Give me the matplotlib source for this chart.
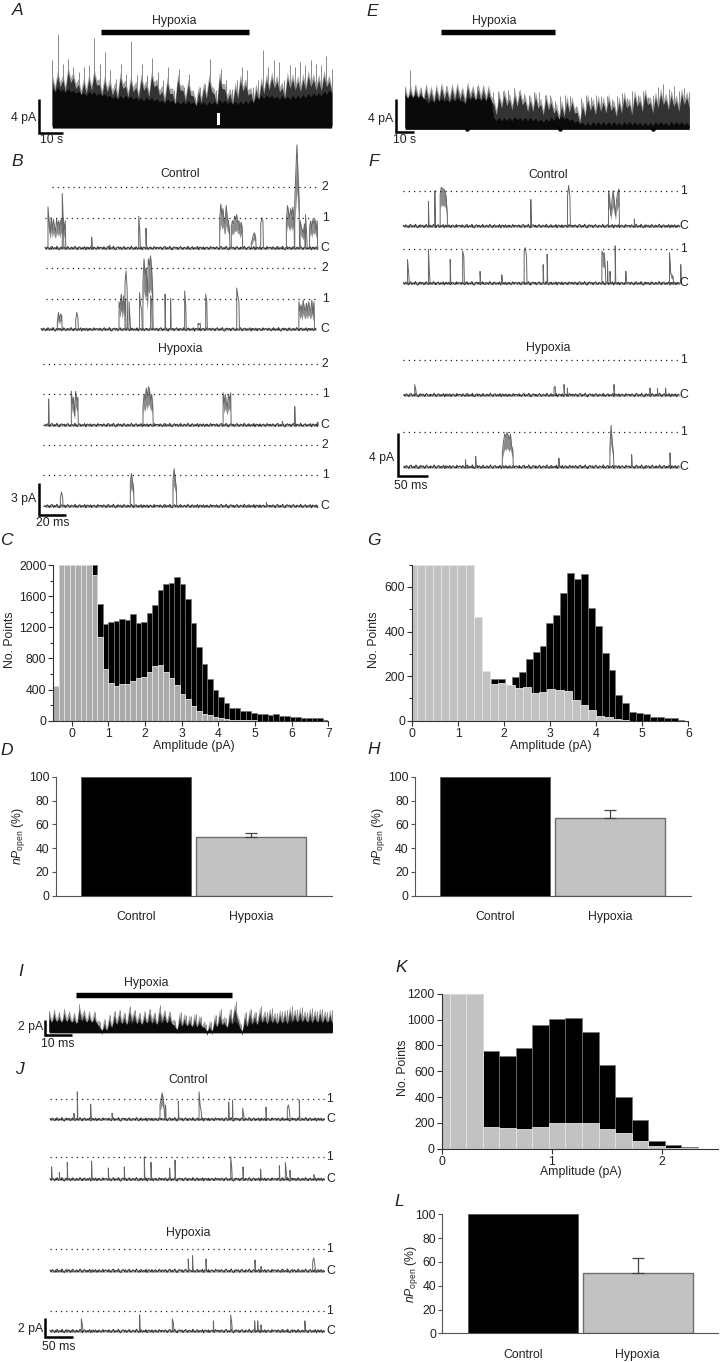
import numpy as np
import matplotlib
matplotlib.use('Agg')
import matplotlib.pyplot as plt
from matplotlib.ticker import MultipleLocator

plt.rcParams['font.family'] = ['Liberation Sans', 'DejaVu Sans']
plt.rcParams['mathtext.fontset'] = 'custom'
plt.rcParams['mathtext.rm'] = 'Liberation Sans'
plt.rcParams['mathtext.it'] = 'Liberation Sans:italic'

W, H = 720, 1362
TXT = '#222222'
FS = 8.8

# long recordings: amplitude (pA) read along the sweep
A_core = [4.5,4.6,4.4,4.5,4.3,4.2,4.0,4.2,4.1,4.0,3.9,3.7,3.6,3.7,3.7,3.6,3.5,3.4,3.5,3.4,3.3,3.1,3.3,3.1,3.0,3.0,3.1,2.9,3.0,2.9,3.0,3.0,3.2,3.1,3.0,3.0,3.0,3.1,3.2,3.6,3.7,3.8,3.7,3.6,3.7,3.6,3.7,3.7,3.8,3.9,4.0,4.0,4.2,4.3]
A_peak = [7.9,11.1,7.5,8.1,7.1,6.5,7.1,7.3,10.6,7.5,8.9,6.7,5.7,7.5,6.3,10.2,6.1,7.5,6.1,8.2,6.5,5.5,7.1,4.3,6.9,4.7,6.3,3.5,4.7,5.1,8.0,4.3,6.9,5.5,4.5,5.5,7.1,6.7,4.7,5.5,9.1,7.1,7.9,7.7,5.5,7.3,7.1,7.7,7.3,7.9,7.5,7.3,8.4,6.9]
A_dark = [5.5,6.0,5.5,6.5,5.8,5.0,5.2,5.6,6.2,5.0,5.4,5.0,4.6,5.8,4.8,5.4,4.7,5.6,4.8,6.0,5.0,4.2,5.2,3.9,5.6,4.3,5.0,3.6,4.2,4.6,5.5,3.8,5.8,4.4,3.9,4.6,5.5,5.0,4.0,4.4,5.2,5.6,5.8,5.4,4.6,5.8,5.6,5.4,5.6,6.0,5.6,5.5,6.0,5.4]
A_gap = (69.4, 70.6, 1.6)

E_core = [3.9,4.0,4.0,3.9,3.3,3.4,3.5,3.5,3.4,3.5,3.6,3.2,3.7,3.7,3.6,3.6,3.7,1.2,1.2,1.2,1.2,1.3,1.2,1.2,1.2,1.1,1.0,1.1,1.2,1.4,1.4,1.2,1.0,.8,.6,.6,.7,.7,.7,.7,.7,.6,.7,.7,.7,.6,.6,.6,.7,.7,.6,.7,.7,.7,.6]
E_peak = [4.8,6.9,5.0,4.7,4.9,4.6,4.7,5.0,4.9,4.7,5.0,4.5,5.0,4.6,4.9,4.8,4.6,4.2,4.4,4.3,4.5,4.7,4.4,4.0,3.9,4.2,4.2,3.9,3.9,3.2,3.7,3.9,3.7,2.6,3.5,3.9,3.6,3.9,3.7,3.8,3.4,3.7,4.1,3.5,4.3,3.9,4.4,3.6,3.9,4.8,5.2,4.6,4.9,4.4,4.7,4.2]
E_dark = [4.4,4.5,4.6,4.3,4.6,4.3,4.5,4.7,4.4,4.6,4.7,4.2,4.8,4.4,4.6,4.5,4.4,2.8,3.6,3.9,3.4,3.8,4.0,3.2,3.2,3.6,2.8,3.4,3.0,2.2,2.6,3.1,3.0,1.8,2.6,3.3,2.8,3.2,3.0,3.3,2.6,3.0,3.6,2.8,3.8,3.2,4.0,3.0,3.6,4.0,3.4,3.8,3.2,4.0,3.6]
E_dips = [34.3, 86.0, 137.8]

I_core = [1.6,1.7,1.6,1.7,1.6,1.4,1.7,1.6,1.6,1.5,0.5,0.5,0.9,1.3,1.4,1.3,1.4,1.4,1.3,1.5,1.4,1.3,1.4,1.5,1.4,0.6,1.1,1.1,1.0,1.0,1.0,0.4,0.4,1.0,1.2,0.9,1.3,1.4,0.4,1.0,1.3,1.3,1.5,1.4,1.5,1.4,1.5,1.4,1.5,1.6,1.6,1.6,1.5,1.6,1.5,1.6,1.5]
I_peak = [2.7,2.8,2.5,3.0,2.6,2.3,3.6,2.7,2.6,2.5,1.2,1.5,2.1,2.7,2.8,2.4,3.4,2.8,2.4,2.6,3.0,2.4,3.5,2.7,2.6,1.3,2.5,2.2,2.0,2.3,1.9,1.0,1.2,2.1,2.9,1.7,3.0,4.0,1.0,2.5,3.0,2.6,3.3,2.6,3.1,2.4,2.7,2.8,3.3,2.9,3.2,2.6,3.1,2.7,3.0,2.6,2.8]
I_dark = [2.2,2.3,2.0,2.4,2.1,1.9,2.8,2.2,2.1,2.0,0.8,1.1,1.6,2.1,2.2,1.9,2.6,2.2,1.9,2.1,2.4,1.9,2.6,2.2,2.1,0.9,1.9,1.7,1.5,1.7,1.5,0.7,0.8,1.6,2.2,1.3,2.3,3.0,0.7,1.9,2.3,2.0,2.5,2.1,2.4,1.9,2.2,2.2,2.6,2.3,2.5,2.1,2.4,2.2,2.4,2.1,2.2]

# closed level flicker, fraction of a 30 px open level
closed_noise = [.02,-.03,.04,-.01,-.05,.03,.05,-.04,.01,-.02,.06,-.03,-.06,.02,.04,-.01,.03,-.05,.01,.05,-.02,-.04,.03,.00,-.03,.06,-.01,-.05,.02,.04,-.04,.01,-.02,.05,-.06,.03,.02,-.03,.04,-.05,.01,.03,-.02,-.04,.05,-.01,.02]

# single channel sweeps: (time in ms, amplitudes as fraction of the open level)
B1 = [(2.2,[1.35,.9,.5,1.0,.6,.95,.7,.55,.95,.7,.9,.6,.95,.8,1.0,.6,.9]),(12.8,[1.8,.8]),(34.6,[.35]),(47.9,[.1]),(69.4,[1.05,.6]),(74.8,[.65]),
      (129.4,[.9,1.45,1.1,1.3,.9,.8,1.4,1.0,.9,.6]),(138,[.7,.9,.8,1.05,.95,1.1,.85,.9,.6,.85,.7]),(152.8,[.15,.3,.45,.5,.35]),(159.8,[.8,1.0,.9]),
      (178.8,[.9,1.4,1.2,1.0,1.3,1.05,1.35,.9]),(185,[1.5,2.5,3.4,2.4,1.6]),(189,[.9,.7,.6,.5,.8]),(193,[1.1,.5]),(196,[.7,.9,.6,.95,.8,.95,.6,.9])]
B2 = [(12.1,[.25,.55,.3,.5,.45]),(25.7,[.3,.55,.4]),(57.8,[.9,.7,1.15,.6,1.1,.7,1.0]),(62.2,[1.5,1.9,1.3]),(65.2,[.9,.3]),(73,[1.2,.8,.6]),
      (75.5,[1.5,2.3,1.8,2.0,1.1,2.3,2.1,2.4,2.0,1.3]),(81.2,[1.1,.9]),(91.9,[1.15]),(96,[1.0]),(106.4,[1.25,.8]),(116.3,[.2,.15,.2]),(122,[1.15,.9]),
      (145,[1.35,1.1,.9]),(191,[.9,.6,.8,.55,.95,.7,.6,.85,.6,.9,.7,.6,.95,.5,.9])]
B3 = [(2.7,[.85]),(19.5,[1.1,.7,.9,.3,1.1,.8,.9]),(72.6,[.6,1.0,.8,1.2,.9,1.25,1.15,.8,1.0,.6]),(131.9,[1.05,.7,1.0,.75,.6,1.0,.8,1.05]),(175.8,[.12]),(185,[.6]),(202,[.1])]
B4 = [(11.4,[.25,.45,.3]),(63.2,[.75,1.05,.8,.6]),(94.8,[.8,1.2,.9,.6]),(164,[.12])]

F1 = [(43,[.7]),(54,[1.0]),(63.2,[.9,1.1,1.05,1.05,1.0,.85,.4]),(219.5,[.75]),(282.8,[.85,1.15,.85]),(353.4,[1.0,.8,.3,.7,1.0,.7,.3,.75,.95,1.05]),(398,[.2])]
F2 = [(6.9,[.7,.3]),(43,[1.0,.2]),(80.5,[.7]),(102,[.95,.8]),(132,[.35]),(169.5,[.25]),(208,[.95,1.05,.8]),(240.8,[.55]),(247.7,[.85]),(342,[.95,.85,.9,.4]),(351.7,[.65]),(356,[.35]),(365,[1.1]),(383.3,[.35]),(458.6,[.9,.3,.25,.2]),(478,[.55])]
F3 = [(18.4,[.3,.15]),(258.6,[.2,.25]),(275.9,[.3]),(281.6,[.2]),(362,[.3]),(424,[.2]),(437,[.18]),(451,[.2])]
F4 = [(106,[.2]),(123.6,[.3]),(169.5,[.4,.7,.95,.85,1.0,.9,.8,.95,.6,.5]),(267,[.25]),(355,[.55,1.2,.7,.4]),(392.5,[.35]),(458.6,[.4])]

J1 = [(44.4,[.3]),(50.6,[1.35]),(75.3,[.75]),(115,[.3]),(203.7,[.7,1.0,1.3,1.0,.4]),(214,[.7]),(237.7,[.9]),(276,[1.35,.7,.4]),(330.9,[.85]),(338,[.95]),(356.8,[.55,.2]),(400,[.6]),(439.5,[.55,.7,.4]),(461.7,[.95])]
J2 = [(3,[.55]),(17.3,[.3]),(32,[.75]),(77,[.8]),(108,[.5]),(137.6,[.55]),(174.7,[1.0]),(187,[.75]),(221.6,[.5]),(231.5,[.85]),(334.6,[1.0,.5]),(357.4,[.55]),(390,[.45]),(424.7,[.6]),(435.8,[.75,.3]),(444.4,[.4]),(488.9,[.2])]
J3 = [(256,[.55]),(264,[.7]),(288.9,[.55]),(379.6,[.5]),(390.7,[.2]),(486.4,[.4,.6,.3])]
J4 = [(58,[.6,.3]),(166,[.8]),(226.5,[.6,.4]),(302.5,[.5]),(334.6,[.8,.4]),(379,[.5]),(384.6,[.5]),(390.7,[.3]),(472,[.5])]

# amplitude histograms
C_black = [450,2000,2000,2000,2000,2000,2000,2000,1500,1240,1270,1280,1300,1295,1370,1260,1265,1380,1490,1680,1750,1770,1850,1750,1560,1260,950,725,530,395,300,225,165,160,120,120,105,90,80,70,80,60,55,45,45,40,40,35,30,15]
C_grey = [450,2000,2000,2000,2000,2000,2000,1870,1070,660,480,445,475,475,505,550,560,630,700,720,620,550,460,340,280,190,125,85,70,45,30,20,15,10,8,5,3]
G_black = [185,185,160,197,220,275,310,337,440,475,575,665,635,660,505,425,305,228,115,78,40,35,28,18,17,13,12,5]
G_grey = [700,700,700,700,700,700,700,700,465,225,165,168,160,147,150,125,128,143,138,133,95,70,47,20,15,8,3]
K_black = [1200,1200,1200,755,720,780,955,1005,1015,900,645,397,220,58,25,10]
K_grey = [1200,1200,1200,170,162,152,165,197,200,200,152,125,62,18,8,6]

# nPopen summaries
groups = ['Control', 'Hypoxia']
D_vals, D_err = [100, 49], [0, 4]
H_vals, H_err = [100, 65], [0, 7]
L_vals, L_err = [100, 50.5], [0, 12.5]


def px_axes(x0, x1, ytop, ybot):
    return fig.add_axes([x0 / W, 1 - ybot / H, (x1 - x0) / W, (ybot - ytop) / H])


def saw(dur, highs, drop):
    # jagged outline: each reading, then a fall of `drop` before the next one
    highs = np.array(highs, dtype=float)
    tops = np.repeat(highs, 2)
    tops[1::2] -= drop
    return np.linspace(0, dur, len(tops)), tops


def dense_trace(x0, x1, y_base, px_per_pa, px_per_unit, core, peak, dark):
    dur = (x1 - x0) / px_per_unit
    ax = px_axes(x0, x1, y_base - 10 * px_per_pa, y_base)
    ax.set_xlim(0, dur)
    ax.set_ylim(0, 10)
    ax.axis('off')
    t_peak = np.linspace(0, dur, len(peak))
    # grey haze, single tall openings, dark fuzz, then the solid block
    t, tops = saw(dur, np.array(dark) + 0.7, 1.4)
    ax.fill_between(t, 0, tops, color='#a4a4a4', lw=0, clip_on=False, zorder=1)
    ax.vlines(t_peak, 0, peak, color='#8a8a8a', lw=0.7, clip_on=False, zorder=2)
    t, tops = saw(dur, dark, 1.3)
    ax.fill_between(t, 0, tops, color='#333333', lw=0, clip_on=False, zorder=3)
    t, tops = saw(dur, core, 0.4)
    ax.fill_between(t, -0.25, tops, color='#0a0a0a', lw=0, clip_on=False, zorder=4)
    return ax


def sweep(x0, x1, y_base, y_level, px_per_ms, events, dt):
    dur = (x1 - x0) / px_per_ms
    ax = px_axes(x0, x1, y_level, y_base)
    ax.set_xlim(0, dur)
    ax.set_ylim(0, 1)
    ax.axis('off')
    ts = np.arange(0, dur, 1.2 / px_per_ms)
    wiggle = np.resize(closed_noise, len(ts)) * 30 / (y_base - y_level)
    ax.plot([0, dur], [0, 0], color='#b0b0b0', lw=1.8, clip_on=False, solid_capstyle='butt')
    ax.plot(ts, wiggle, color='#333333', lw=0.7, clip_on=False)
    for t, amps in events:
        xs = [t] + [t + i * dt for i in range(len(amps))] + [t + (len(amps) - 1) * dt + dt * 0.5]
        ys = [0] + list(amps) + [0]
        if len(amps) >= 4:
            tb = t + dt * np.arange(len(amps))
            ax.fill_between(tb, np.array(amps) * 0.55, amps, color='#8c8c8c', lw=0, clip_on=False)
        ax.plot(xs, ys, color='#666666', lw=0.7, clip_on=False)
    return ax


def histogram(rect, xlim, ylim, grey_col, grey_start, grey_w, grey, black_start, black_w, black, xticks, major, minor, xlab, ylab):
    x0, x1, ytop, ybot = rect
    ax = px_axes(x0, x1, ytop, ybot)
    ax.bar(black_start + black_w * np.arange(len(black)), black, black_w, align='edge', color='black', edgecolor='#777777', lw=0.5)
    ax.bar(grey_start + grey_w * np.arange(len(grey)), grey, grey_w, align='edge', color=grey_col, edgecolor='#e4e4e4', lw=0.6)
    ax.set_xlim(*xlim)
    ax.set_ylim(*ylim)
    ax.spines[['top', 'right']].set_visible(False)
    ax.spines[['left', 'bottom']].set_color('#333333')
    ax.set_xticks(xticks)
    ax.yaxis.set_major_locator(MultipleLocator(major))
    if minor:
        ax.yaxis.set_minor_locator(MultipleLocator(minor))
    ax.tick_params(axis='both', which='major', labelsize=FS, labelcolor=TXT, length=3.5, width=0.8, pad=1.5, color='#333333')
    ax.tick_params(axis='y', which='minor', length=2.2, width=0.8, color='#333333')
    ax.set_xlabel('Amplitude (pA)', fontsize=FS, color=TXT, va='center')
    ax.set_ylabel('No. Points', fontsize=FS, color=TXT, va='center', ha='center')
    ax.xaxis.set_label_coords((xlab[0] - x0) / (x1 - x0), (ybot - xlab[1]) / (ybot - ytop))
    ax.yaxis.set_label_coords((ylab[0] - x0) / (x1 - x0), (ybot - ylab[1]) / (ybot - ytop))
    return ax


def popen_bars(rect, centres, bar_w, vals, err, grey_col, ylab):
    x0, x1, ytop, ybot = rect
    ax = px_axes(x0, x1, ytop, ybot)
    unit = centres[1] - centres[0]
    ax.set_xlim((x0 - centres[0]) / unit, (x1 - centres[0]) / unit)
    ax.set_ylim(0, 100)
    ax.bar(0, vals[0], bar_w / unit, color='black', edgecolor='#555555', lw=0.6)
    ax.bar(1, vals[1], bar_w / unit, color=grey_col, edgecolor='#6e6e6e', lw=1.0)
    ax.errorbar(1, vals[1], yerr=[[0], [err[1]]], color='#444444', lw=0.9, capsize=4.5, capthick=0.9)
    ax.spines[['top', 'right']].set_visible(False)
    ax.spines[['left', 'bottom']].set_color('#555555')
    ax.set_xticks([0, 1], groups)
    ax.set_yticks(range(0, 101, 20))
    ax.tick_params(axis='x', length=0, labelsize=FS, labelcolor=TXT, pad=11)
    ax.tick_params(axis='y', length=3, width=0.8, labelsize=FS, labelcolor=TXT, pad=1.5, color='#555555')
    ax.set_ylabel(r'$\mathit{nP}_{\mathrm{open}}$ (%)', fontsize=FS, color=TXT, va='center', ha='center')
    ax.yaxis.set_label_coords((ylab - x0) / (x1 - x0), 0.5)
    return ax


fig = plt.figure(figsize=(W / 100, H / 100), dpi=100, facecolor='white')

# A, E, I long records
ax_a = dense_trace(52.3, 331.7, 126, 8.33, 2.37, A_core, A_peak, A_dark)
ax_a.fill_between(A_gap[:2], 0.1, A_gap[2], color='white', lw=0, zorder=5)
ax_e = dense_trace(405, 689.3, 127.3, 8.33, 1.8, E_core, E_peak, E_dark)
ax_e.plot(E_dips, [-0.2] * len(E_dips), 'o', color='black', ms=2.2, clip_on=False, zorder=5)
dense_trace(49, 332.3, 1031, 7.5, 2.67, I_core, I_peak, I_dark)

# B, F, J sweeps
sweep(45, 318, 248, 217.7, 1.35, B1, 0.8)
sweep(41, 316, 329.3, 298.7, 1.35, B2, 0.8)
sweep(45, 318, 425, 394.3, 1.35, B3, 0.8)
sweep(45, 318, 506, 475, 1.35, B4, 0.8)
sweep(403.5, 680, 226, 190.7, 0.58, F1, 2)
sweep(403.5, 680, 283.3, 249.3, 0.58, F2, 2)
sweep(404, 680, 395, 360, 0.58, F3, 2)
sweep(404, 680, 466.7, 432.3, 0.58, F4, 2)
sweep(50, 324, 1119.3, 1099, 0.54, J1, 2)
sweep(50, 324, 1179.3, 1156.7, 0.54, J2, 2)
sweep(50, 324, 1270.7, 1249.3, 0.54, J3, 2)
sweep(50, 324, 1331, 1310.7, 0.54, J4, 2)

# C, G, K histograms
histogram((53.3, 328.3, 565, 720.7), (-0.5, 7), (0, 2000), '#ababab', -0.5, 0.15, C_grey, -0.5, 0.15, C_black,
          range(0, 8), 400, 200, (194.3, 746), (10, 640))
histogram((412.3, 688.3, 564.7, 720.7), (0, 6), (0, 700), '#c2c2c2', -0.083, 0.1775, G_grey, 1.717, 0.15, G_black,
          range(0, 7), 200, 100, (550.7, 746), (374.3, 640))
histogram((441.7, 718.3, 993.7, 1148.7), (0, 2.508), (0, 1200), '#c2c2c2', -0.078, 0.15, K_grey, -0.078, 0.15, K_black,
          range(0, 3), 200, None, (580.7, 1172.3), (402.7, 1068))

# D, H, L nPopen
popen_bars((55.7, 331.7, 776.7, 895.7), (136, 250.8), 110, D_vals, D_err, '#c2c2c2', 18.3)
popen_bars((415, 690.7, 776.7, 895.7), (495, 610), 110, H_vals, H_err, '#c2c2c2', 378.3)
popen_bars((442.3, 718.3, 1214.3, 1333.3), (523.3, 637.7), 110, L_vals, L_err, '#c2c2c2', 411.7)

# everything placed by hand goes on a pixel overlay
ov = fig.add_axes([0, 0, 1, 1], zorder=10)
ov.set_xlim(0, W)
ov.set_ylim(H, 0)
ov.axis('off')
ov.patch.set_alpha(0)


def put(x, y, s, ha='center', **kw):
    ov.text(x, y, s, ha=ha, va='center', fontsize=kw.pop('fontsize', FS), color=TXT, **kw)


for s, x, y in [('A', 17.7, 10.3), ('B', 17.7, 162), ('C', 6.7, 540.7), ('D', 6.7, 750.7), ('E', 372.5, 11), ('F', 373.3, 162),
                ('G', 374, 540.7), ('H', 373.3, 750), ('I', 20.7, 972), ('J', 19, 1070), ('K', 401, 968), ('L', 399.3, 1201.7)]:
    put(x, y, s, fontsize=12.5, style='italic')

# hypoxia bars
for x0, x1, y, tx, ty in [(101, 249, 32.3, 174.7, 20.7), (440.7, 554.7, 32, 494.7, 21.3), (76, 232, 994.5, 146.7, 982.7)]:
    ov.plot([x0, x1], [y, y], color='black', lw=3.9, solid_capstyle='butt')
    put(tx, ty, 'Hypoxia')

for x, y, s in [(179.7, 174.3, 'Control'), (180, 348.7, 'Hypoxia'), (547.7, 175, 'Control'), (548.3, 348.3, 'Hypoxia'),
                (188.3, 1080, 'Control'), (188.7, 1232.7, 'Hypoxia')]:
    put(x, y, s)

# scale bars
for x, y0, y1, x1, lab, lx, ly, tlab, tx, ty in [
        (39, 99.3, 132.7, 62.7, '4 pA', 36, 118, '10 s', 51.3, 140),
        (396, 99, 132.3, 414, '4 pA', 393.3, 119, '10 s', 405, 140.3),
        (39, 483.3, 515, 65.7, '3 pA', 35.7, 499.3, '20 ms', 52.3, 523.3),
        (398.3, 433.3, 475.7, 427.7, '4 pA', 393.7, 457.7, '50 ms', 410.7, 485.7),
        (45, 1020, 1035, 71.7, '2 pA', 42.7, 1027.3, '10 ms', 57.3, 1043.7),
        (45, 1318.3, 1336.7, 72.7, '2 pA', 42.7, 1329.3, '50 ms', 58.3, 1346.7)]:
    ov.plot([x, x, x1], [y0, y1, y1], color='black', lw=1.8, solid_joinstyle='miter', solid_capstyle='butt')
    put(lx, ly, lab, ha='right')
    put(tx, ty, tlab)

# dotted levels and their labels: x start, x end, label x, level y, label
levels = [(52, 318, 325.3, 187.3, '2'), (45, 318, 325.3, 217.7, '1'), (45, 318, 325.3, 248, 'C'),
          (46, 316, 325.3, 268.3, '2'), (46, 316, 325.3, 298.7, '1'), (41, 316, 325.3, 329.3, 'C'),
          (43, 320, 325.3, 364.3, '2'), (43, 320, 325.3, 394.3, '1'), (43, 320, 325.3, 425, 'C'),
          (43, 320, 325.3, 445, '2'), (43, 320, 325.3, 475, '1'), (43, 320, 325.3, 506, 'C'),
          (403, 680, 683.3, 190.7, '1'), (403, 680, 684, 226, 'C'), (403, 680, 683.3, 249.3, '1'), (403, 680, 684, 283.3, 'C'),
          (403, 680, 683.3, 360, '1'), (403, 680, 684, 395, 'C'), (403, 680, 683.3, 432.3, '1'), (403, 680, 684, 466.7, 'C'),
          (50, 325, 329.7, 1099, '1'), (50, 325, 331, 1119.3, 'C'), (50, 325, 329.7, 1156.7, '1'), (50, 325, 331, 1179.3, 'C'),
          (50, 325, 329.7, 1249.3, '1'), (50, 325, 331, 1270.7, 'C'), (50, 325, 329.7, 1310.7, '1'), (50, 325, 331, 1331, 'C')]
for x0, x1, lx, y, s in levels:
    ov.plot([x0, x1], [y, y], color='#222222', lw=0.9, linestyle=(0, (1, 3.2)))
    put(lx, y, s)

fig.savefig('out.png', dpi=100, facecolor='white')
